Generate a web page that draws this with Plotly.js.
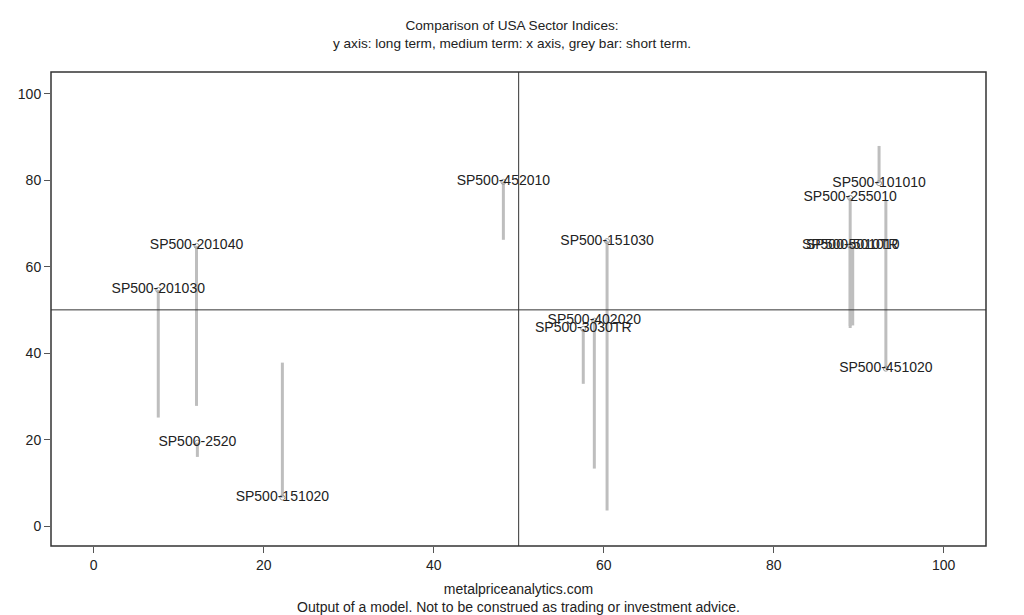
<!DOCTYPE html>
<html>
<head>
<meta charset="utf-8">
<script src="https://cdn.plot.ly/plotly-3.0.1.min.js"></script>
<style>
  html, body { margin: 0; padding: 0; background: #fff; }
  #chart { width: 1024px; height: 615px; }
</style>
</head>
<body>
<div id="chart"></div>
<script>
"use strict";

// sector index names
var sectors = ["SP500-201030", "SP500-201040", "SP500-2520", "SP500-151020",
    "SP500-452010", "SP500-151030", "SP500-402020", "SP500-3030TR",
    "SP500-101010", "SP500-255010", "SP500-451020", "SP500-5010TR", "SP500-501010"];
// medium term score (x axis)
var mediumTerm = [7.6, 12.1, 12.2, 22.2, 48.2, 60.4, 58.9, 57.6, 92.4, 89.0, 93.2, 89.0, 89.3];
// long term score (y axis)
var longTerm = [54.6, 64.8, 19.3, 6.6, 79.6, 65.9, 47.5, 45.6, 79.3, 75.9, 36.4, 64.8, 64.8];
// short term score (end of grey bar)
var shortTerm = [25.1, 27.8, 16.0, 37.8, 66.2, 3.6, 13.3, 32.9, 87.9, 45.8, 75.2, 46.3, 46.4];

var textFont = {family: "Liberation Sans, Arial, sans-serif", size: 14, color: "#222"};

// grey bars: one segment per sector, separated by nulls
var barX = [], barY = [];
for (var i = 0; i < sectors.length; i++) {
    barX.push(mediumTerm[i], mediumTerm[i], null);
    barY.push(longTerm[i], shortTerm[i], null);
}

var data = [{
    x: barX,
    y: barY,
    mode: "lines",
    line: {color: "#bebebe", width: 3},
    hoverinfo: "none",
    type: "scatter"
}, {
    x: mediumTerm,
    y: longTerm,
    mode: "markers+text",
    text: sectors,
    textposition: "middle center",
    textfont: textFont,
    marker: {symbol: "circle-open", size: 5, color: "#999", line: {width: 1}},
    hoverinfo: "text",
    type: "scatter"
}];

var axisStyle = {
    showgrid: false,
    zeroline: false,
    showline: false,
    ticks: "outside",
    ticklen: 6,
    tickcolor: "#555",
    tickwidth: 1,
    tickfont: textFont,
    dtick: 20,
    tick0: 0
};

var layout = {
    width: 1024,
    height: 615,
    margin: {l: 51, r: 38, t: 72, b: 69},
    paper_bgcolor: "#fff",
    plot_bgcolor: "#fff",
    showlegend: false,
    font: textFont,
    title: {
        text: "Comparison of USA Sector Indices:<br>y axis: long term, medium term: x axis, grey bar: short term.",
        font: {family: textFont.family, size: 13.6, color: "#222"},
        x: 0.5,
        xanchor: "center",
        y: 0.951,
        yanchor: "middle"
    },
    xaxis: Object.assign({}, axisStyle, {
        range: [-5.02, 104.98],
        title: {
            text: "metalpriceanalytics.com<br>Output of a model. Not to be construed as trading or investment advice.",
            font: textFont,
            standoff: 16
        }
    }),
    yaxis: Object.assign({}, axisStyle, {
        range: [-4.6, 105]
    }),
    shapes: [
        // plot frame
        {type: "rect", xref: "paper", yref: "paper", x0: 0, x1: 1, y0: 0, y1: 1,
            line: {color: "#333", width: 1.5}},
        // quadrant lines at 50
        {type: "line", xref: "x", yref: "paper", x0: 50, x1: 50, y0: 0, y1: 1,
            line: {color: "#333", width: 1}},
        {type: "line", xref: "paper", yref: "y", x0: 0, x1: 1, y0: 50, y1: 50,
            line: {color: "#333", width: 1}}
    ]
};

Plotly.newPlot("chart", data, layout, {displayModeBar: false, staticPlot: true});
</script>
</body>
</html>
